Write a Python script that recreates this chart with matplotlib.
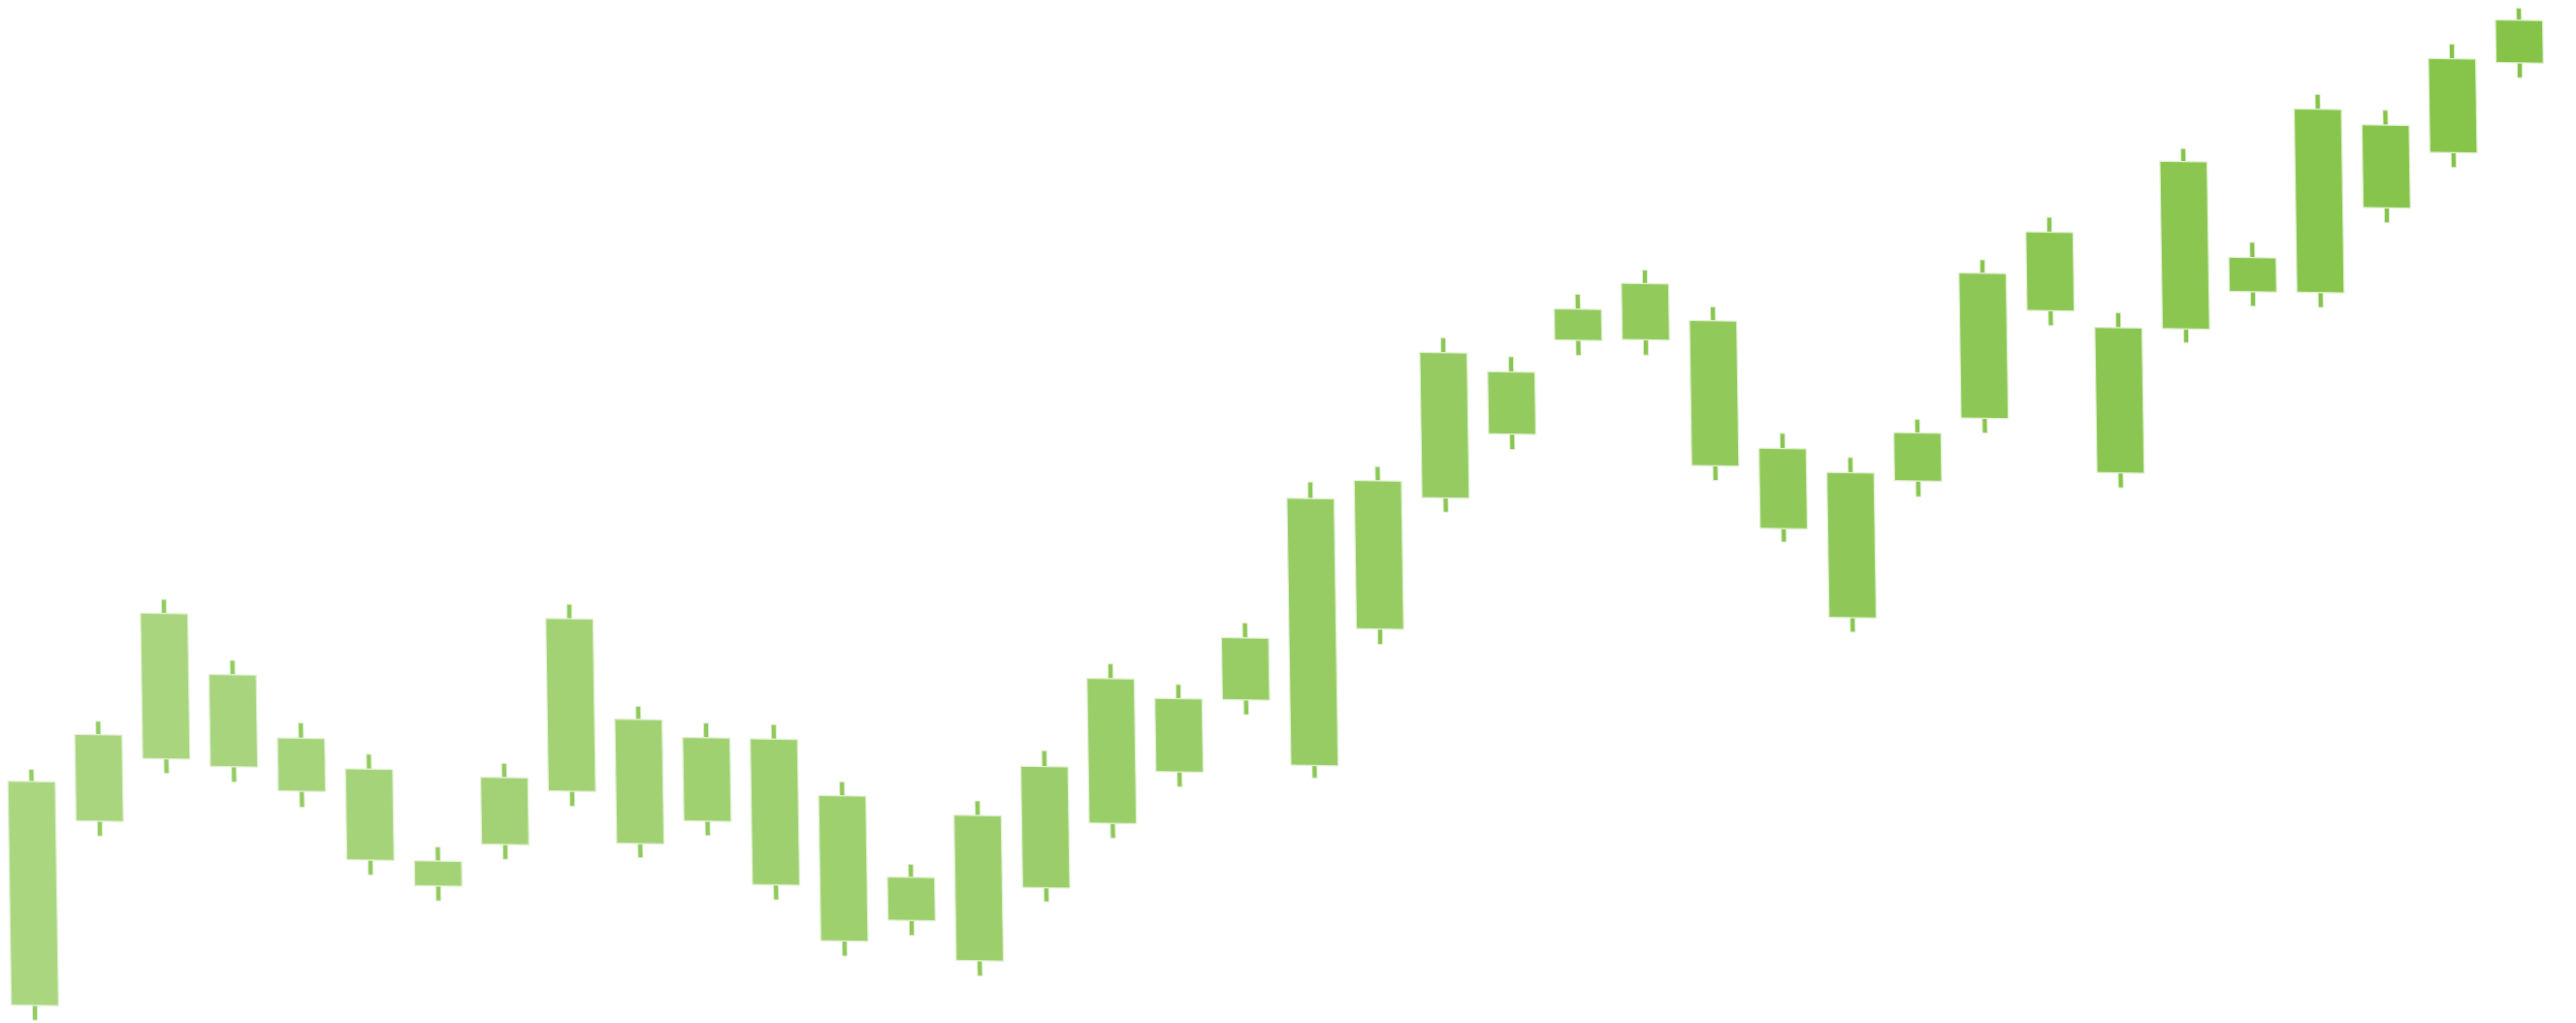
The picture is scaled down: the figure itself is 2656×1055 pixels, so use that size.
import matplotlib
matplotlib.use("Agg")
import matplotlib.pyplot as plt
import numpy as np
from matplotlib.transforms import Affine2D
from matplotlib.colors import to_rgb

# Candle values (arbitrary price units)
opens = [4.37, 23.47, 30.00, 29.29, 26.87, 19.87, 17.31, 21.69, 27.29, 21.99,
         24.41, 17.94, 12.26, 14.48, 10.43, 18.06, 24.81, 30.22, 37.75, 31.09,
         45.27, 58.89, 65.58, 75.36, 75.51, 62.62, 56.25, 47.17, 61.37, 67.94,
         79.14, 62.52, 77.47, 81.41, 81.43, 90.27, 96.07, 105.43]
closes = [27.45, 32.38, 44.99, 38.77, 32.33, 29.25, 19.87, 28.59, 45.07, 34.79,
          33.01, 32.97, 27.23, 18.93, 25.41, 30.56, 39.73, 37.77, 44.14, 58.62,
          60.55, 73.87, 71.99, 78.57, 81.31, 77.58, 64.51, 62.12, 66.33, 82.90,
          87.24, 77.49, 94.73, 84.93, 100.34, 98.80, 105.75, 109.83]
highs = [28.69, 33.76, 46.44, 40.26, 33.90, 30.78, 21.32, 30.05, 46.57, 36.14,
         34.51, 34.47, 28.68, 20.28, 26.91, 32.20, 41.25, 39.23, 45.67, 60.32,
         62.02, 75.39, 73.55, 80.09, 82.69, 79.01, 66.07, 63.68, 67.71, 84.28,
         88.77, 79.02, 96.07, 86.50, 101.87, 100.33, 107.25, 111.07]
lows = [2.84, 21.94, 28.51, 27.72, 25.23, 18.35, 15.78, 20.17, 25.75, 20.54,
        22.92, 16.40, 10.71, 12.94, 8.88, 16.62, 23.29, 28.70, 36.23, 29.81,
        43.68, 57.43, 63.99, 73.80, 73.94, 61.11, 54.87, 45.69, 59.76, 66.43,
        77.61, 60.99, 76.06, 79.92, 79.90, 88.74, 94.54, 103.90]

W, H = 2656, 1055
fig = plt.figure(figsize=(W / 100, H / 100), dpi=100)
ax = fig.add_axes([0, 0, 1, 1])
ax.set_xlim(-0.403, 37.73)
ax.set_ylim(4.5, 110)
ax.axis("off")

n = len(opens)
xs = np.arange(n)
o = np.array(opens); c = np.array(closes)
hi = np.array(highs); lo = np.array(lows)
body_lo = np.minimum(o, c); body_hi = np.maximum(o, c)

c0 = np.array(to_rgb("#aad680")); c1 = np.array(to_rgb("#85c349"))
t = xs / (n - 1)
body_cols = [tuple(c0 + (c1 - c0) * ti) for ti in t]
w0 = np.array(to_rgb("#93cc62")); w1 = np.array(to_rgb("#84c248"))
wick_cols = [tuple(w0 + (w1 - w0) * ti) for ti in t]

skew = Affine2D().translate(-W / 2, -H / 2).skew(-0.015, -0.015).translate(W / 2, H / 2)
tr = ax.transData + skew

up = ax.bar(xs, hi - body_hi, bottom=body_hi, width=0.072, color=wick_cols,
            edgecolor="#e2f1d4", linewidth=0.6, zorder=1)
dn = ax.bar(xs, body_lo - lo, bottom=lo, width=0.072, color=wick_cols,
            edgecolor="#e2f1d4", linewidth=0.6, zorder=1)
bodies = ax.bar(xs, body_hi - body_lo, bottom=body_lo, width=0.70, color=body_cols,
                edgecolor="#e2f1d4", linewidth=0.9, zorder=2)
for cont in (up, dn, bodies):
    for p in cont.patches:
        p.set_transform(tr)
        p.set_clip_on(False)

fig.savefig("out.png", dpi=100, facecolor="white")
